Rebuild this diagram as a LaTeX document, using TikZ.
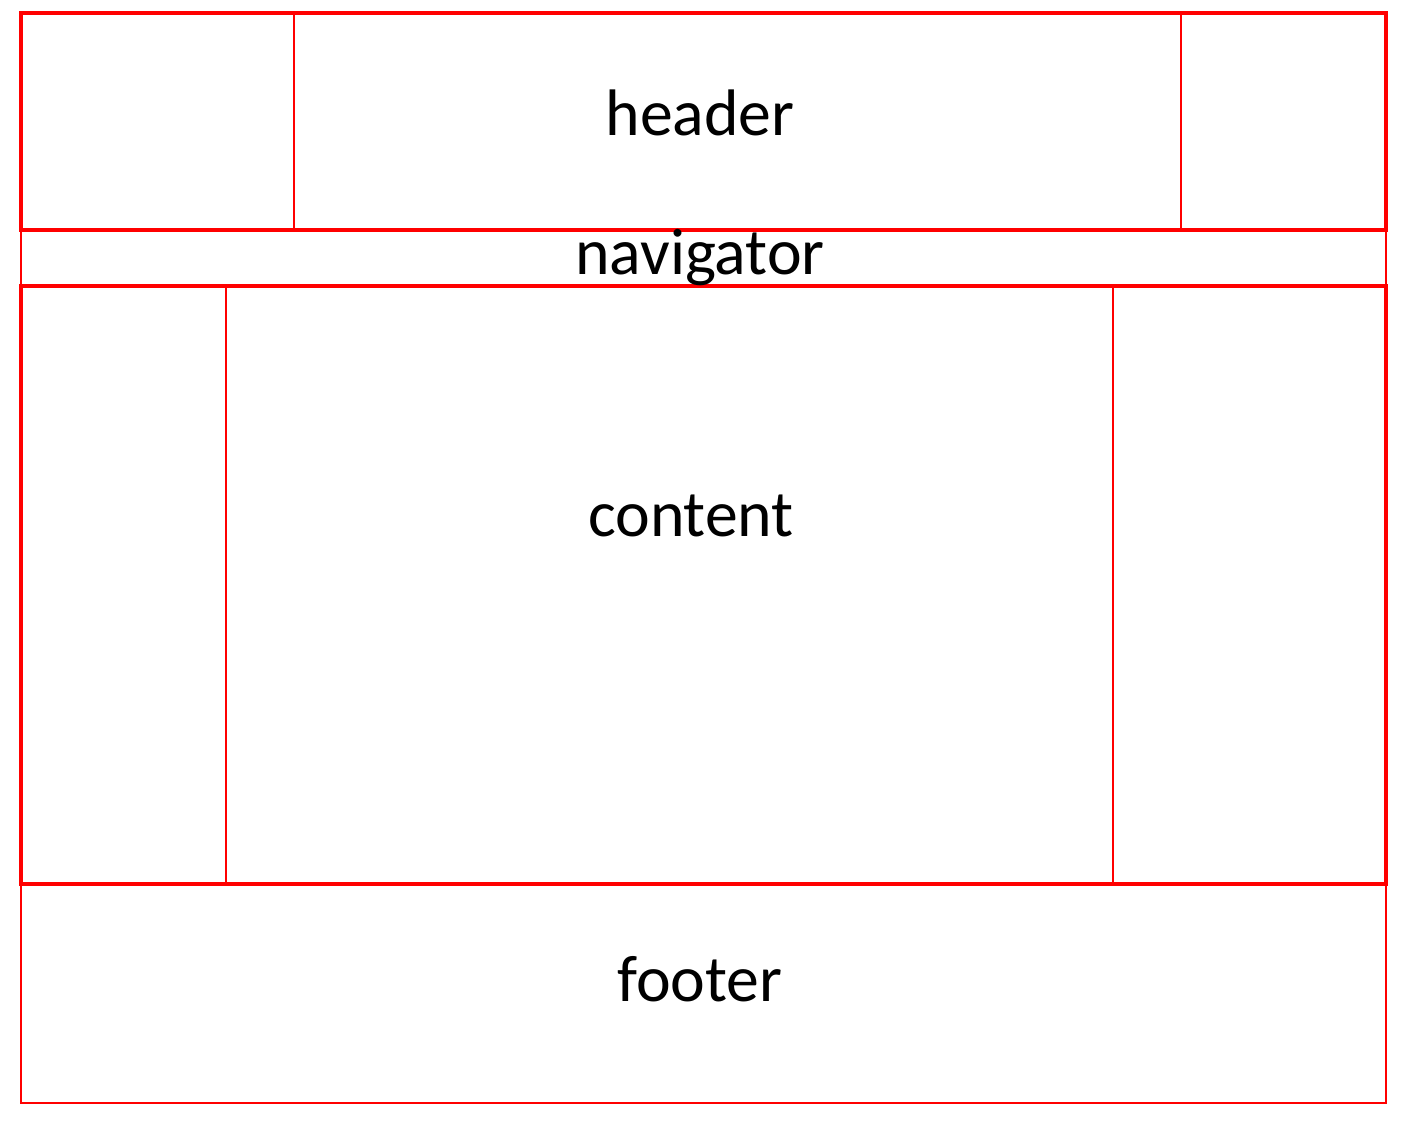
\documentclass[tikz,border=0pt]{standalone}
\usepackage{fontspec}
\setmainfont{Carlito}
\begin{document}
\begin{tikzpicture}[x=0.01cm,y=-0.01cm,
    thickbox/.style={draw=red,line width=0.9pt},
    thinbox/.style={draw=red,line width=0.7pt},
    label/.style={font=\fontsize{18.7}{22}\selectfont,inner sep=0pt}]
        \useasboundingbox (0,0) rectangle (1402,1125);

        \draw[thickbox] (21,13)  rectangle (1386,230);
        \draw[thinbox]  (21,231) rectangle (1386,285);
        \draw[thickbox] (21,286) rectangle (1386,884);
        \draw[thinbox]  (21,885) rectangle (1386,1103);

        \draw[thinbox] (294,13)   -- (294,230);
        \draw[thinbox] (1181,13)  -- (1181,230);
        \draw[thinbox] (226,286)  -- (226,884);
        \draw[thinbox] (1113,286) -- (1113,884);

        \node[label] (header)    at (700,113) {header};
        \node[label] (navigator) at (700,258) {navigator};
        \node[label] (content)   at (691,516) {content};
        \node[label] (footer)    at (700,979) {footer};
      \end{tikzpicture}
\end{document}
